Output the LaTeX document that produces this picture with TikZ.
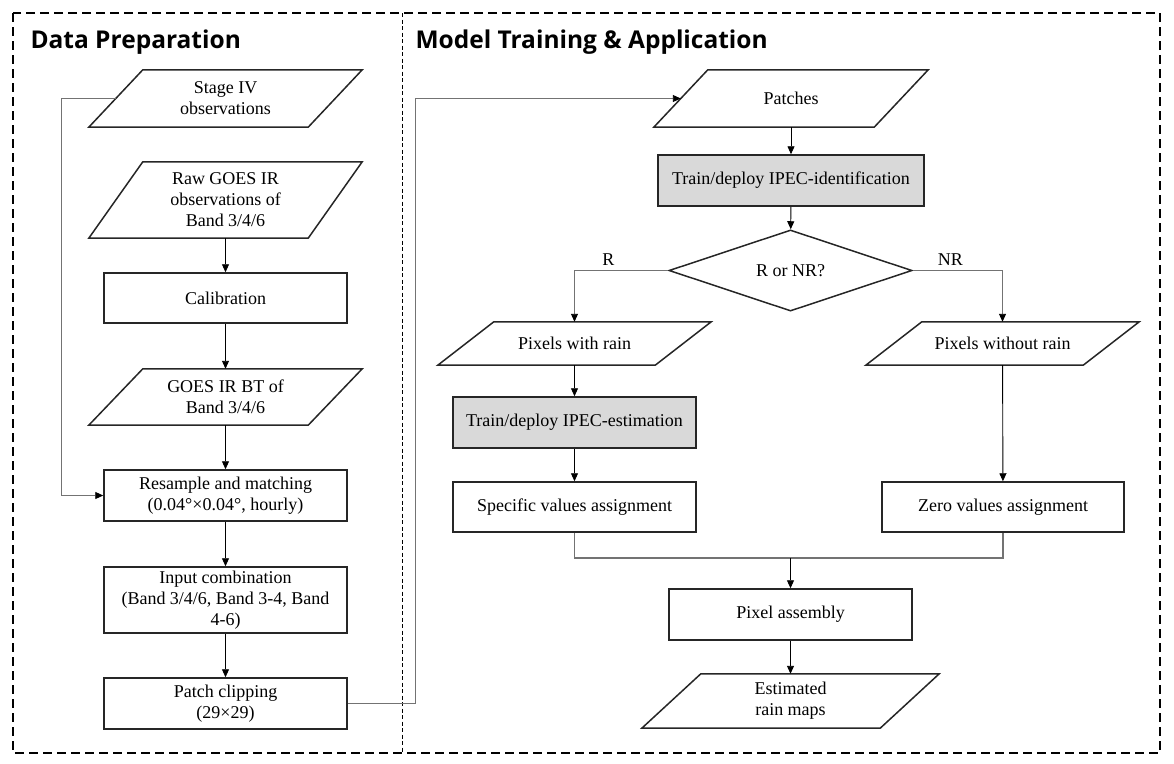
\documentclass[tikz,border=0pt]{standalone}
\usepackage{fontspec}
\setmainfont{Liberation Serif}
\newfontfamily\headfont{Open Sans}
\usetikzlibrary{shapes.geometric,arrows.meta}

\tikzset{
  boxline/.style={draw=black!85, line width=1.5pt},
  proc/.style={boxline, minimum width=243pt, minimum height=51pt, inner ysep=1pt, align=center},
  model/.style={proc, fill=black!15},
  datain/.style={minimum width=273pt, minimum height=57pt, inner ysep=1pt, align=center,
    append after command={\pgfextra{\draw[boxline]
      ([xshift=#1]\tikzlastnode.north west) -- (\tikzlastnode.north east)
      -- ([xshift=-#1]\tikzlastnode.south east) -- (\tikzlastnode.south west) -- cycle;}}},
  datain/.default=54pt,
  decision/.style={boxline, diamond, minimum width=243pt, minimum height=73pt, inner sep=0pt},
  arr/.style={-{Triangle[length=8pt,width=7pt,color=black]}, line width=0.9pt},
  link/.style={draw=black!55, line width=1.1pt},
  title/.style={anchor=west, font=\headfont\bfseries\fontsize{24.5}{29}\selectfont},
}

\begin{document}
\begin{tikzpicture}[x=1pt, y=-1pt, font=\fontsize{18}{21}\selectfont]% Flow chart:
\useasboundingbox (0,0) rectangle (1174,763);

% frames and titles
\draw[line width=1.3pt, dash pattern=on 9pt off 5pt] (13,13) rectangle (1160,753);
\draw[line width=0.8pt, dash pattern=on 4pt off 2.5pt] (402,13) -- (402,753);
\node[title] (prephead) at (27,42) {Data Preparation};
\node[title] (modelhead) at (412,42) {Model Training \& Application};

% data preparation
\node[datain] (stage) at (225.5,98.5) {Stage IV\\observations};
\node[datain, minimum height=76pt] (raw) at (225.5,200) {Raw GOES IR\\observations of\\Band 3/4/6};
\node[proc, minimum height=50pt] (calib) at (225.5,298) {Calibration};
\node[datain, minimum height=56pt] (bt) at (225.5,397) {GOES IR BT of\\Band 3/4/6};
\node[proc] (resample) at (225.5,495.5) {Resample and matching\\(0.04°×0.04°, hourly)};
\node[proc, minimum height=66pt] (combine) at (225.5,600) {Input combination\\(Band 3/4/6, Band 3-4, Band\\4-6)};
\node[proc] (clip) at (225.5,703.5) {Patch clipping\\(29×29)};

\draw[arr] (raw) -- (calib);
\draw[arr] (calib) -- (bt);
\draw[arr] (bt) -- (resample);
\draw[arr] (resample) -- (combine);
\draw[arr] (combine) -- (clip);
\draw[link, arr] ([xshift=27pt]stage.west) -| ([xshift=-42pt]resample.west) -- (resample.west);

% model training and application
\node[datain, minimum width=274pt] (patches) at (791,98.5) {Patches};
\node[model, minimum width=266pt] (ident) at (791,180.5) {Train/deploy IPEC-identification};
\node[decision] (decide) at (790.5,270.5) {R or NR?};
\node[datain=56pt, minimum height=43pt] (wrain) at (574.5,343.5) {Pixels with rain};
\node[model] (estim) at (574.5,422.5) {Train/deploy IPEC-estimation};
\node[proc, minimum height=50pt] (specific) at (574.5,507) {Specific values assignment};
\node[datain=56pt, minimum height=43pt] (norain) at (1002.5,343.5) {Pixels without rain};
\node[proc, minimum width=242pt, minimum height=50pt] (zero) at (1003,507) {Zero values assignment};
\node[proc] (assembly) at (790.5,614.5) {Pixel assembly};
\node[datain=59pt, minimum width=297pt, minimum height=54pt] (maps) at (790.5,701) {Estimated\\rain maps};
\coordinate (merge) at (790.5,558);

\draw[link, arr] (clip.east) -- ++(68,0) |- ([xshift=27pt]patches.west);
\draw[arr] (patches) -- (ident);
\draw[arr] (ident) -- (decide);
\draw[link, arr] (decide.west) -| node[pos=0.32, above=1pt, black] {R} (wrain.north);
\draw[link, arr] (decide.east) -| node[pos=0.21, above=1pt, black] {NR} (norain.north);
\draw[arr] (wrain) -- (estim);
\draw[arr] (estim) -- (specific);
\draw[arr] (norain) -- (zero);
\draw[link] (specific.south) |- (merge) -| (zero.south);
\draw[arr] (merge) -- (assembly);
\draw[arr] (assembly) -- (maps);

\end{tikzpicture}
\end{document}
